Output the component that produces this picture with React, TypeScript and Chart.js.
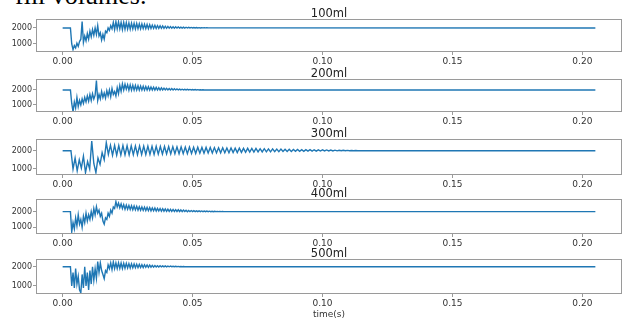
import React, { useEffect, useRef } from 'react';
import { Chart, registerables } from 'chart.js';

Chart.register(...registerables);

// ---------- data ----------
const PANEL_TITLES = ['100ml', '200ml', '300ml', '400ml', '500ml'];
const X_TICKS = [0, 0.05, 0.1, 0.15, 0.2];
const Y_TICKS = [1000, 2000];
const X_MIN = -0.01025;
const X_MAX = 0.21525;
const END_TIME = 0.205;
const END_VALUE = 2000;
const X_LABEL = 'time(s)';
const HEADER_TEXT = 'fill volumes.';

// sampling step (s) of each hand-read series
const STEPS = [0.0005, 0.0005, 0.0008, 0.0005, 0.0005];
const Y_MINS = [500, 530, 670, 570, 585];
const Y_MAXS = [2560, 2730, 2640, 2810, 2400];

const V100 = [
  2000, 2000, 2000, 2000, 2000, 2000, 2000,
  1000, 650, 900, 750, 1050, 850, 1150, 1300, 2400,
  1100, 1500, 1200, 1650, 1300, 1800, 1450, 1900, 1550, 2000,
  1600, 2150, 1500, 1700, 1250, 1600, 1300, 1800, 1700, 2000,
  1850, 2150, 1950, 2350, 1900, 2400, 1950, 2380, 1950, 2350,
  1900, 2350, 1920, 2330, 1930, 2320, 1930, 2300, 1940, 2290,
  1940, 2280, 1950, 2260, 1950, 2250, 1960, 2230, 1960, 2220,
  1960, 2200, 1970, 2180, 1970, 2170, 1970, 2150, 1980, 2140,
  1980, 2130, 1980, 2110, 1980, 2100, 1990, 2090, 1990, 2080,
  1990, 2070, 1990, 2060, 1995, 2055, 1995, 2050, 1995, 2045,
  1995, 2040, 2000, 2035, 2000, 2030, 2000, 2025, 2000, 2020,
  2000, 2015, 2005, 2012, 2005, 2010, 2005, 2008, 2005, 2005,
];

const V200 = [
  2000, 2000, 2000, 2000, 2000, 2000, 2000,
  1100, 550, 1200, 800, 1500, 900, 1300, 1000, 1400,
  1100, 1500, 1200, 1600, 1250, 1700, 1300, 1750, 1400, 1650,
  2620, 1300, 1700, 1400, 1900, 1500, 1800, 1450, 1950, 1600,
  2000, 1550, 2100, 1700, 1900, 1600, 2150, 1750, 2300, 1900,
  2400, 2000, 2380, 2050, 2350, 1980, 2340, 1990, 2320, 1990,
  2300, 1990, 2280, 1990, 2260, 1990, 2250, 1990, 2230, 1990,
  2220, 1990, 2200, 1995, 2190, 1995, 2170, 1995, 2150, 1995,
  2140, 2000, 2120, 2000, 2110, 2000, 2100, 2000, 2090, 2000,
  2080, 2000, 2070, 2000, 2060, 2000, 2050, 2000, 2045, 2000,
  2040, 2000, 2035, 2000, 2030, 2000, 2025, 2000, 2020, 2000,
  2015, 2000, 2010, 2000, 2008, 2000,
];

const V300 = [
  2000, 2000, 2000, 2000, 2000,
  1000, 1600, 900, 1500, 1050, 1700, 800, 1400, 1000, 2530,
  1300, 800, 1600, 1250, 1900, 1500, 2440, 1800, 2300, 1750,
  2290, 1760, 2280, 1760, 2280, 1770, 2270, 1770, 2270, 1780,
  2260, 1780, 2260, 1790, 2250, 1790, 2250, 1800, 2240, 1800,
  2240, 1810, 2230, 1810, 2230, 1820, 2220, 1820, 2220, 1830,
  2210, 1830, 2210, 1840, 2200, 1840, 2200, 1850, 2190, 1850,
  2190, 1860, 2180, 1860, 2180, 1870, 2170, 1870, 2170, 1880,
  2160, 1880, 2160, 1890, 2150, 1890, 2150, 1900, 2140, 1900,
  2140, 1910, 2130, 1910, 2130, 1920, 2120, 1920, 2120, 1930,
  2110, 1930, 2110, 1940, 2100, 1940, 2100, 1950, 2090, 1950,
  2090, 1955, 2080, 1960, 2080, 1960, 2070, 1965, 2070, 1970,
  2060, 1970, 2060, 1975, 2055, 1975, 2050, 1980, 2050, 1980,
  2045, 1985, 2040, 1985, 2035, 1990, 2030, 1990, 2025, 1995,
  2020, 1995, 2015, 2000, 2010, 2000, 2008, 2000, 2005, 2000,
];

const V400 = [
  2000, 2000, 2000, 2000, 2000, 2000, 2000,
  700, 1300, 900, 1600, 1100, 1800, 1200, 1500, 1000,
  1700, 1300, 1900, 1400, 1800, 1500, 2000, 1600, 2200, 1800,
  2320, 1900, 2100, 1700, 1900, 1400, 1200, 1600, 1500, 1900,
  1700, 2100, 1900, 2300, 2200, 2640, 2300, 2550, 2250, 2500,
  2200, 2450, 2150, 2420, 2150, 2400, 2140, 2380, 2120, 2360,
  2110, 2340, 2100, 2320, 2090, 2300, 2080, 2290, 2070, 2270,
  2060, 2260, 2050, 2240, 2050, 2230, 2040, 2210, 2040, 2200,
  2030, 2190, 2030, 2170, 2020, 2160, 2020, 2150, 2015, 2140,
  2015, 2130, 2010, 2120, 2010, 2110, 2005, 2100, 2005, 2090,
  2000, 2080, 2000, 2070, 2000, 2060, 2000, 2055, 2000, 2050,
  2000, 2045, 2000, 2040, 2000, 2035, 2000, 2030, 2000, 2025,
  2000, 2020, 2000, 2015, 2000, 2010, 2000, 2008, 2000, 2005,
];

const V500 = [
  2000, 2000, 2000, 2000, 2000, 2000, 2000,
  1000, 1700, 900, 1900, 1100, 1500, 800, 640, 1600,
  900, 2000, 1000, 1700, 800, 1800, 1100, 2000, 1300, 1900,
  1400, 2270, 1700, 2200, 1800, 1600, 1380, 1800, 1700, 2100,
  1900, 2200, 1850, 2250, 1900, 2200, 1900, 2200, 1910, 2190,
  1910, 2180, 1920, 2170, 1930, 2160, 1930, 2150, 1940, 2140,
  1950, 2130, 1950, 2120, 1960, 2110, 1960, 2100, 1970, 2090,
  1970, 2080, 1975, 2070, 1980, 2060, 1985, 2055, 1985, 2050,
  1990, 2045, 1990, 2040, 1995, 2035, 1995, 2030, 2000, 2025,
  2000, 2020, 2000, 2015, 2000, 2010, 2000, 2008, 2000, 2005,
];

const SERIES = [V100, V200, V300, V400, V500];

// ---------- layout ----------
const W = 627;
const H = 320;
const PANEL_TOPS = [19, 79, 139, 199, 259];
const PANEL_BOTTOMS = [52, 112, 175, 234, 294];
const AREA_LEFT = 36;
const AREA_RIGHT = 622;
const LINE_COLOR = '#1f77b4';
const FRAME_COLOR = '#9a9a9a';
const TEXT_COLOR = '#333333';

function Panel({ index }: { index: number }) {
  const ref = useRef<HTMLCanvasElement | null>(null);
  const isLast = index === SERIES.length - 1;
  const canvasTop = PANEL_TOPS[index] - 18;
  const canvasBottom = isLast ? H : PANEL_BOTTOMS[index] + 14;
  const canvasH = canvasBottom - canvasTop;

  useEffect(() => {
    if (!ref.current) return;
    const padTop = PANEL_TOPS[index] - canvasTop;
    const areaH = PANEL_BOTTOMS[index] - PANEL_TOPS[index];
    const xAxisH = 14;
    const padBottom = canvasH - padTop - areaH - xAxisH;
    const step = STEPS[index];
    const points = SERIES[index]
      .map((v, i) => ({ x: i * step, y: v }))
      .concat([{ x: END_TIME, y: END_VALUE }]);

    const decor = {
      id: 'panelDecor',
      afterDraw(chart: any) {
        const { ctx, chartArea } = chart;
        const { left, top, right, bottom } = chartArea;
        ctx.save();
        ctx.strokeStyle = FRAME_COLOR;
        ctx.lineWidth = 1;
        ctx.strokeRect(left + 0.5, top + 0.5, right - left - 1, bottom - top - 1);
        ctx.fillStyle = '#222222';
        ctx.font = '11.5px "DejaVu Sans"';
        ctx.textAlign = 'center';
        ctx.textBaseline = 'alphabetic';
        ctx.fillText(PANEL_TITLES[index], (left + right) / 2, top - 2);
        if (isLast) {
          ctx.fillStyle = TEXT_COLOR;
          ctx.font = '9px "DejaVu Sans"';
          ctx.fillText(X_LABEL, (left + right) / 2, bottom + 23);
        }
        ctx.restore();
      },
    };

    const chart = new Chart(ref.current, {
      type: 'line',
      data: {
        datasets: [
          {
            label: PANEL_TITLES[index],
            data: points,
            borderColor: LINE_COLOR,
            borderWidth: 1.4,
            pointRadius: 0,
            tension: 0,
            fill: false,
          },
        ],
      },
      options: {
        animation: false,
        responsive: false,
        devicePixelRatio: 1,
        parsing: false as any,
        layout: {
          padding: { top: padTop, bottom: padBottom, left: 0, right: W - AREA_RIGHT },
        },
        plugins: {
          legend: { display: false },
          tooltip: { enabled: false },
          title: { display: false },
        },
        scales: {
          x: {
            type: 'linear',
            min: X_MIN,
            max: X_MAX,
            afterBuildTicks: (s: any) => {
              s.ticks = X_TICKS.map((v) => ({ value: v }));
            },
            afterFit: (s: any) => {
              s.height = xAxisH;
            },
            grid: { drawOnChartArea: false, drawTicks: true, tickLength: 3, color: FRAME_COLOR },
            border: { display: false },
            ticks: {
              autoSkip: false,
              maxRotation: 0,
              padding: 1,
              color: TEXT_COLOR,
              font: { family: 'DejaVu Sans', size: 9 },
              callback: (v: any) => Number(v).toFixed(2),
            },
          },
          y: {
            type: 'linear',
            min: Y_MINS[index],
            max: Y_MAXS[index],
            afterBuildTicks: (s: any) => {
              s.ticks = Y_TICKS.map((v) => ({ value: v }));
            },
            afterFit: (s: any) => {
              s.width = AREA_LEFT;
            },
            grid: { drawOnChartArea: false, drawTicks: true, tickLength: 3, color: FRAME_COLOR },
            border: { display: false },
            ticks: {
              padding: 1,
              color: TEXT_COLOR,
              font: { family: 'DejaVu Sans', size: 8 },
              callback: (v: any) => String(v),
            },
          },
        },
      },
      plugins: [decor],
    });
    return () => chart.destroy();
  }, []);

  return (
    <canvas
      ref={ref}
      width={W}
      height={canvasH}
      style={{ position: 'absolute', left: 0, top: canvasTop, width: W, height: canvasH }}
    />
  );
}

export default function App() {
  return (
    <div
      style={{
        position: 'absolute',
        left: 0,
        top: 0,
        width: W,
        height: H,
        overflow: 'hidden',
        background: '#ffffff',
      }}
    >
      <div
        style={{
          position: 'absolute',
          left: 15,
          top: -17,
          fontFamily: '"Liberation Serif", serif',
          fontSize: 26,
          lineHeight: '26px',
          color: '#000',
          whiteSpace: 'nowrap',
        }}
      >
        {HEADER_TEXT}
      </div>
      {SERIES.map((_, i) => (
        <Panel key={i} index={i} />
      ))}
    </div>
  );
}
